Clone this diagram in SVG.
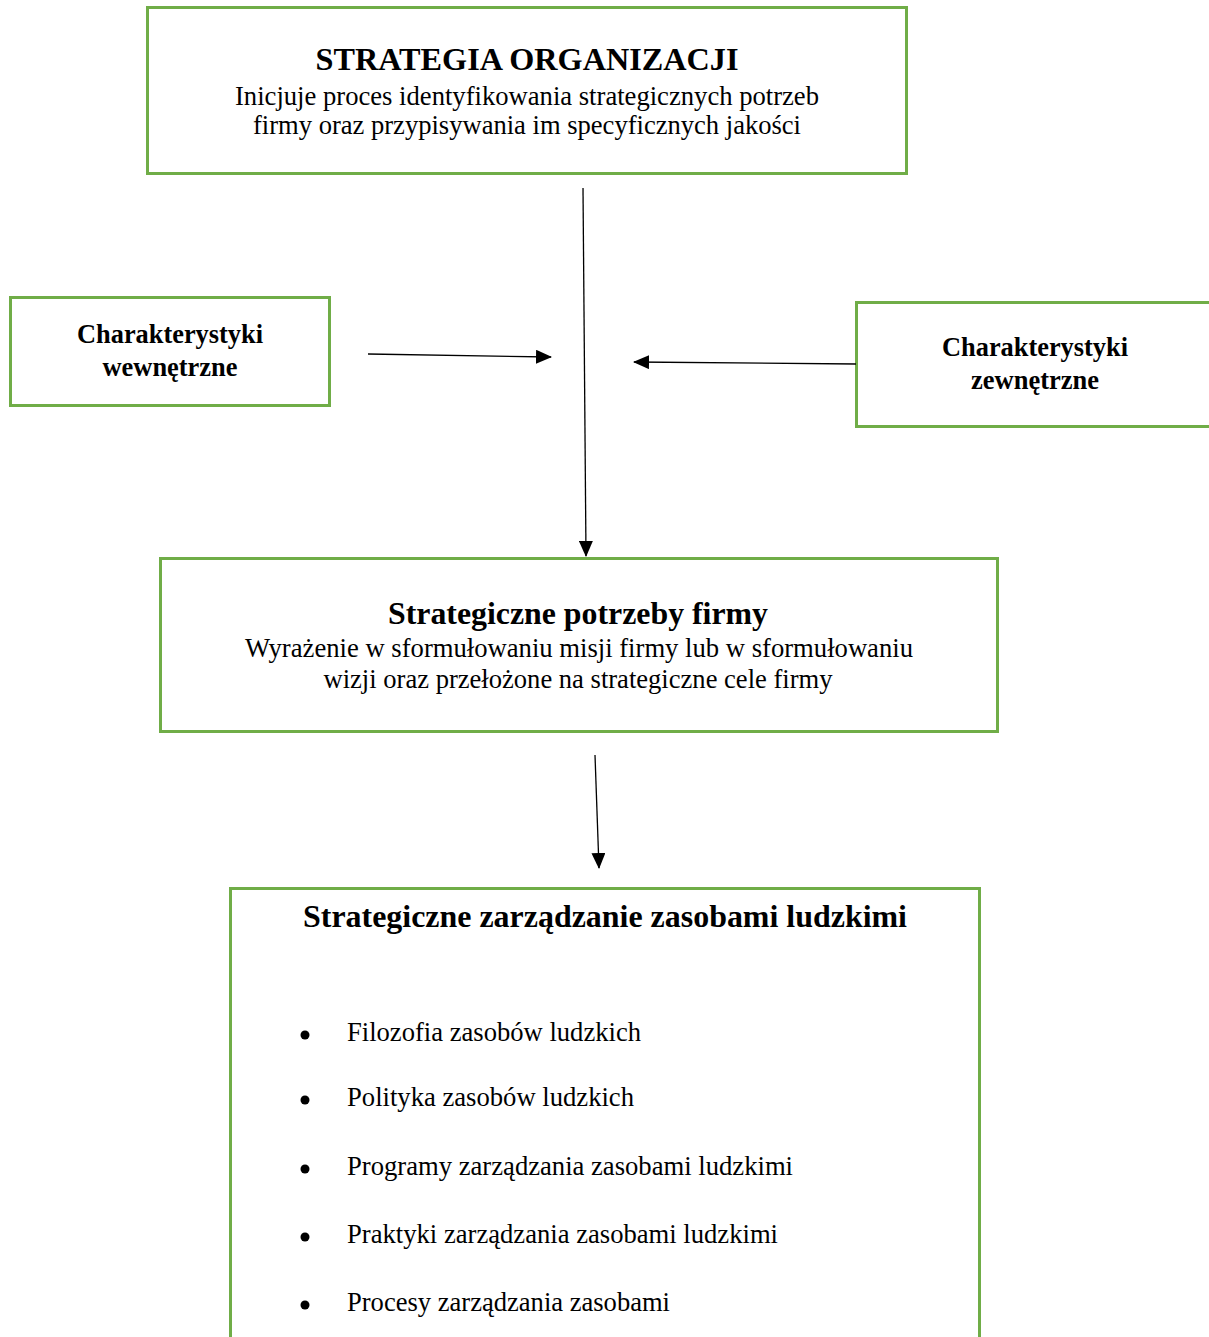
<svg xmlns="http://www.w3.org/2000/svg" width="1209" height="1337" viewBox="0 0 1209 1337">
  <style>
    .box { fill: #ffffff; stroke: #70ad47; stroke-width: 3; }
    text { font-family: 'Liberation Serif', 'Times New Roman', serif; fill: #000000; }
    .t { text-anchor: middle; }
    .b { font-weight: bold; }
    .li { font-size: 26.6px; }
    .link { stroke: #000000; stroke-width: 1.3; fill: none; marker-end: url(#arrow); }
  </style>
  <defs>
    <marker id="arrow" markerUnits="userSpaceOnUse" markerWidth="16" markerHeight="14" refX="15" refY="7" orient="auto">
      <path d="M0,0 L16,7 L0,14 Z" fill="#000000"/>
    </marker>
  </defs>
  <rect width="1209" height="1337" fill="#ffffff"/>

  <g id="strategia">
    <rect class="box" x="147.5" y="7.5" width="759" height="166"/>
    <text class="t b" x="527" y="70" font-size="32" textLength="423" lengthAdjust="spacingAndGlyphs">STRATEGIA ORGANIZACJI</text>
    <text class="t" x="527" y="105" font-size="26.6" textLength="584" lengthAdjust="spacingAndGlyphs">Inicjuje proces identyfikowania strategicznych potrzeb</text>
    <text class="t" x="527" y="134" font-size="26.6" textLength="548" lengthAdjust="spacingAndGlyphs">firmy oraz przypisywania im specyficznych jakości</text>
  </g>

  <g id="wewnetrzne">
    <rect class="box" x="10.5" y="297.5" width="319" height="108"/>
    <text class="t b" x="170" y="343" font-size="26.4" textLength="186" lengthAdjust="spacingAndGlyphs">Charakterystyki</text>
    <text class="t b" x="170" y="376" font-size="26.4" textLength="135" lengthAdjust="spacingAndGlyphs">wewnętrzne</text>
  </g>

  <g id="zewnetrzne">
    <rect class="box" x="856.5" y="302.5" width="360" height="124"/>
    <text class="t b" x="1035" y="356" font-size="26.4" textLength="186" lengthAdjust="spacingAndGlyphs">Charakterystyki</text>
    <text class="t b" x="1035" y="389" font-size="26.4" textLength="128" lengthAdjust="spacingAndGlyphs">zewnętrzne</text>
  </g>

  <g id="potrzeby">
    <rect class="box" x="160.5" y="558.5" width="837" height="173"/>
    <text class="t b" x="578" y="624" font-size="31.8" textLength="380" lengthAdjust="spacingAndGlyphs">Strategiczne potrzeby firmy</text>
    <text class="t" x="579" y="657" font-size="26.6" textLength="668" lengthAdjust="spacingAndGlyphs">Wyrażenie w sformułowaniu misji firmy lub w sformułowaniu</text>
    <text class="t" x="578" y="688" font-size="26.6" textLength="509" lengthAdjust="spacingAndGlyphs">wizji oraz przełożone na strategiczne cele firmy</text>
  </g>

  <g id="szzl">
    <rect class="box" x="230.5" y="888.5" width="749" height="460"/>
    <text class="t b" x="605" y="927" font-size="31.5" textLength="604" lengthAdjust="spacingAndGlyphs">Strategiczne zarządzanie zasobami ludzkimi</text>
    <g fill="#000000">
      <circle cx="305" cy="1035" r="4.5"/>
      <circle cx="305" cy="1100" r="4.5"/>
      <circle cx="305" cy="1169" r="4.5"/>
      <circle cx="305" cy="1237" r="4.5"/>
      <circle cx="305" cy="1305" r="4.5"/>
    </g>
    <text class="li" x="347" y="1041" textLength="294" lengthAdjust="spacingAndGlyphs">Filozofia zasobów ludzkich</text>
    <text class="li" x="347" y="1106" textLength="287" lengthAdjust="spacingAndGlyphs">Polityka zasobów ludzkich</text>
    <text class="li" x="347" y="1175" textLength="446" lengthAdjust="spacingAndGlyphs">Programy zarządzania zasobami ludzkimi</text>
    <text class="li" x="347" y="1243" textLength="431" lengthAdjust="spacingAndGlyphs">Praktyki zarządzania zasobami ludzkimi</text>
    <text class="li" x="347" y="1311" textLength="323" lengthAdjust="spacingAndGlyphs">Procesy zarządzania zasobami</text>
  </g>

  <g id="connectors">
    <line class="link" x1="583" y1="188" x2="586" y2="556"/>
    <line class="link" x1="368" y1="354" x2="551" y2="357"/>
    <line class="link" x1="856" y1="364" x2="634" y2="362"/>
    <line class="link" x1="595" y1="755" x2="599" y2="868"/>
  </g>
</svg>
